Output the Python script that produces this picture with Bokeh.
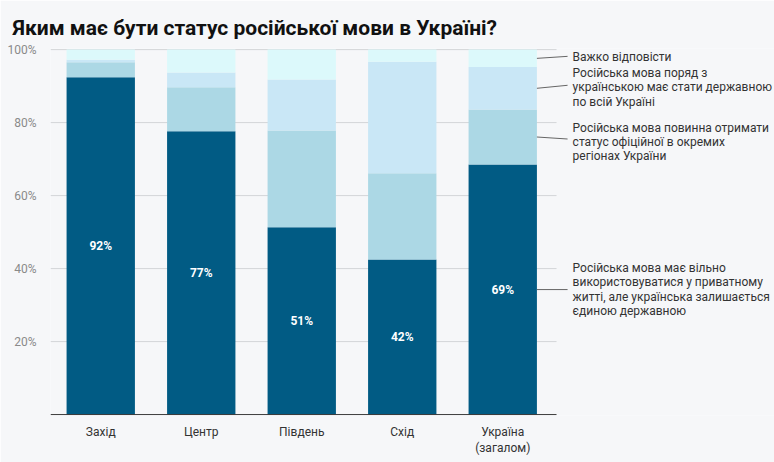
from bokeh.plotting import figure
from bokeh.models import Range1d, FixedTicker
from bokeh.embed import file_html
from bokeh.resources import INLINE
from bokeh.core.properties import value

# ---- data ----
categories = ["Захід", "Центр", "Південь", "Схід", "Україна\n(загалом)"]
private = [92.4, 77.6, 51.3, 42.5, 68.5]
official = [4.1, 12.1, 26.5, 23.6, 15.1]
state = [0.7, 4.0, 14.0, 30.6, 11.6]
hard = [2.8, 6.3, 8.2, 3.3, 4.8]
private_labels = ["92%", "77%", "51%", "42%", "69%"]

series_labels = [
    "Російська мова має вільно\nвикористовуватися у приватному\nжитті, але українська залишається\nєдиною державною",
    "Російська мова повинна отримати\nстатус офіційної в окремих\nрегіонах України",
    "Російська мова поряд з\nукраїнською має стати державною\nпо всій Україні",
    "Важко відповісти",
]
title_text = "Яким має бути статус російської мови в Україні?"
y_ticks = [20, 40, 60, 80, 100]
y_tick_labels = ["20%", "40%", "60%", "80%", "100%"]

# ---- styles / layout ----
colors = ["#015b84", "#acd8e5", "#c9e7f6", "#dcf9fb"]
BG = "#f6f7f9"
FONT = "Roboto"
W, H = 774, 462
Y0, Y1 = -0.25, 100.3
LEFT, TOP, BOTTOM = 50, 48, 47
PX = (Y1 - Y0) / (H - TOP - BOTTOM)  # data units per pixel
text_shift_px = [0, 5, -1, -1]        # label nudges (down = positive)
line_end_shift_px = [0, 2, -3, -2]

xs = [i + 0.5 for i in range(len(categories))]
series = [private, official, state, hard]
names = ["private", "official", "state", "hard"]
data = {"x": xs}
for n, s in zip(names, series):
    data[n] = s

p = figure(width=W, height=H, output_backend="svg", toolbar_location=None,
           x_range=Range1d(0, 7.204), y_range=Range1d(Y0, Y1),
           min_border_left=LEFT, min_border_right=0, min_border_top=TOP,
           min_border_bottom=BOTTOM, title=title_text)
p.background_fill_color = BG
p.border_fill_color = BG
p.outline_line_color = None
p.xgrid.visible = False
p.ygrid.visible = False

# title
p.title.text_font = FONT
p.title.text_font_size = "21px"
p.title.text_font_style = "bold"
p.title.text_color = "#111111"
p.title.align = "left"
p.title.vertical_align = "top"
p.title.offset = -38
p.title.standoff = 14

# gridlines
grid_end = len(categories) + 0.035
p.multi_line(xs=[[0, grid_end] for _ in y_ticks], ys=[[t, t] for t in y_ticks],
             line_color="#d3d5d8", line_width=1)

# stacked bars
p.vbar_stack(names, x="x", width=0.68, source=data, color=colors, line_width=0)

# baseline axis line
p.segment(x0=[0], y0=[0], x1=[grid_end], y1=[0], line_color="#333333", line_width=1)

# value labels
p.text(x=xs, y=[v / 2 for v in private], text=private_labels,
       text_align="center", text_baseline="middle", text_color="white",
       text_font=value(FONT), text_font_size="12px", text_font_style="bold")

# right-hand annotations for last bar
last = len(categories) - 1
cum = 0
mids = []
for s in series:
    mids.append(cum + s[last] / 2)
    cum += s[last]
bar_right = xs[last] + 0.34
line_end_y = [m - d * PX for m, d in zip(mids, line_end_shift_px)]
text_y = [m - d * PX for m, d in zip(mids, text_shift_px)]
p.segment(x0=[bar_right] * 4, y0=mids, x1=[bar_right + 0.305] * 4, y1=line_end_y,
          line_color="#666666", line_width=1)
p.text(x=[bar_right + 0.355] * 4, y=text_y, text=series_labels,
       text_align="left", text_baseline="middle", text_color="#333333",
       text_font=value(FONT), text_font_size="12px", text_line_height=1.02)

# axes
p.yaxis.ticker = FixedTicker(ticks=y_ticks)
p.yaxis.major_label_overrides = dict(zip(y_ticks, y_tick_labels))
p.yaxis.axis_line_color = None
p.yaxis.major_tick_line_color = None
p.yaxis.minor_tick_line_color = None
p.yaxis.major_label_text_font = FONT
p.yaxis.major_label_text_font_size = "12px"
p.yaxis.major_label_text_color = "#8a8a8a"
p.yaxis.major_label_standoff = 8

p.xaxis.ticker = FixedTicker(ticks=xs)
p.xaxis.major_label_overrides = dict(zip(xs, categories))
p.xaxis.axis_line_color = None
p.xaxis.major_tick_line_color = None
p.xaxis.minor_tick_line_color = None
p.xaxis.major_label_text_font = FONT
p.xaxis.major_label_text_font_size = "12px"
p.xaxis.major_label_text_color = "#333333"
p.xaxis.major_label_standoff = 3

html = file_html(p, INLINE)
html = html.replace("<body>", '<body style="background:%s">' % BG, 1)
open("out.html", "w").write(html)
